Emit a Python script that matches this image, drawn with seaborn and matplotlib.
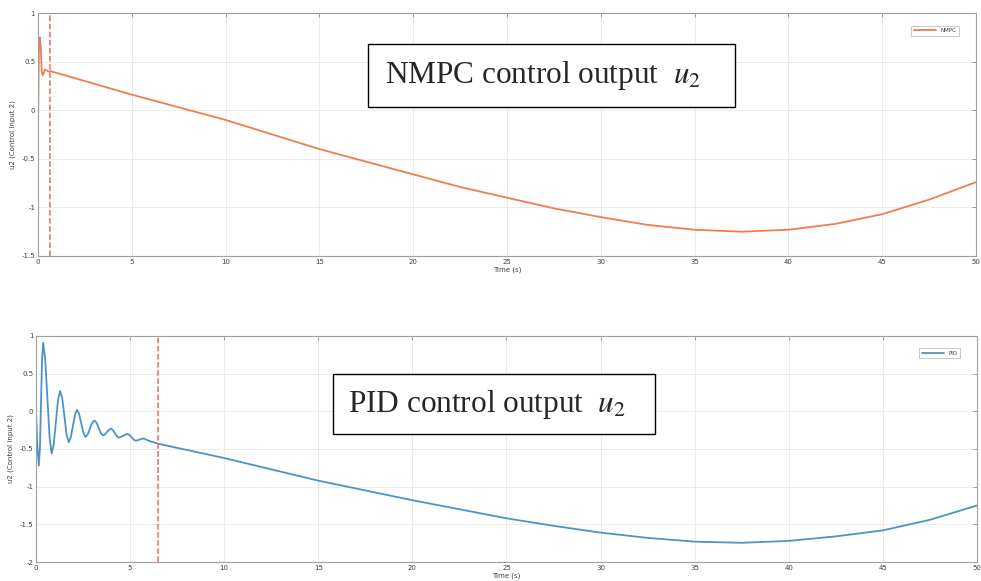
import pandas as pd
import matplotlib
matplotlib.use('Agg')
import matplotlib.pyplot as plt
from matplotlib.patches import Rectangle
import seaborn as sns

sns.set_style('whitegrid')
plt.rcParams['font.family'] = ['DejaVu Sans']
plt.rcParams['mathtext.fontset'] = 'stix'

# NMPC control output u2
nmpc_t = [0, 0.05, 0.1, 0.15, 0.2, 0.25, 0.3, 0.38, 0.45, 0.55, 0.7, 2.5, 5,
          7.5, 10, 12.5, 15, 17.5, 20, 22.5, 25, 27.5, 30, 32.5, 35, 37.5, 40,
          42.5, 45, 47.5, 50]
nmpc_u = [-0.2, 0.6, 0.75, 0.65, 0.4, 0.36, 0.38, 0.42, 0.41, 0.4, 0.4, 0.30, 0.16,
          0.03, -0.10, -0.25, -0.40, -0.53, -0.66, -0.79, -0.90, -1.01, -1.10, -1.18,
          -1.23, -1.25, -1.23, -1.17, -1.07, -0.92, -0.74]

# PID control output u2
pid_t = [0, 0.07, 0.15, 0.21, 0.265, 0.32, 0.38, 0.49, 0.605, 0.72, 0.83, 0.94, 1.055, 1.17,
         1.28, 1.395, 1.51, 1.625, 1.74, 1.85, 1.96, 2.07, 2.18, 2.29, 2.405, 2.52, 2.63,
         2.75, 2.865, 2.98, 3.1, 3.215, 3.33, 3.445, 3.56, 3.665, 3.77, 3.875, 3.98, 4.085,
         4.19, 4.295, 4.4, 4.515, 4.63, 4.745, 4.86, 4.97, 5.08, 5.19, 5.3, 5.405, 5.51,
         5.615, 5.72, 5.9, 6.1, 6.5, 7.5, 10, 12.5, 15, 17.5, 20, 22.5, 25, 27.5, 30, 32.5,
         35, 37.5, 40, 42.5, 45, 47.5, 50]
pid_u = [0.0, -0.45, -0.72, -0.48, 0.095, 0.67, 0.91, 0.69, 0.175, -0.34, -0.56, -0.44,
         -0.145, 0.15, 0.27, 0.17, -0.07, -0.31, -0.41, -0.345, -0.195, -0.045, 0.02, -0.035,
         -0.16, -0.285, -0.34, -0.305, -0.23, -0.155, -0.12, -0.15, -0.22, -0.29, -0.32,
         -0.305, -0.275, -0.245, -0.23, -0.25, -0.29, -0.33, -0.35, -0.34, -0.325, -0.31,
         -0.30, -0.315, -0.345, -0.375, -0.39, -0.385, -0.375, -0.365, -0.36, -0.38, -0.40,
         -0.43, -0.485, -0.62, -0.77, -0.92, -1.05, -1.18, -1.30, -1.42, -1.52, -1.61, -1.68,
         -1.73, -1.745, -1.72, -1.66, -1.58, -1.44, -1.25]

nmpc_mark = 0.65
pid_mark = 6.5
xticks = [0, 5, 10, 15, 20, 25, 30, 35, 40, 45, 50]
nmpc_yticks = [-1.5, -1, -0.5, 0, 0.5, 1]
pid_yticks = [-2, -1.5, -1, -0.5, 0, 0.5, 1]


def style_axes(ax, yticks):
    ax.set_xlim(0, 50)
    ax.set_ylim(yticks[0], yticks[-1])
    ax.set_xticks(xticks)
    ax.set_yticks(yticks)
    ax.set_xticklabels([f'{v:g}' for v in xticks])
    ax.set_yticklabels([f'{v:g}' for v in yticks])
    ax.tick_params(direction='in', top=True, right=True, labelsize=5,
                   labelcolor='#404040', color='#909090', length=3, width=0.6, pad=2)
    ax.grid(True, color='#e8e8e8', linewidth=0.6)
    for s in ax.spines.values():
        s.set_color('#a0a0a0')
        s.set_linewidth(0.8)
    ax.set_xlabel('Time (s)', fontsize=5, color='#404040', labelpad=1)
    ax.set_ylabel('u2 (Control Input 2)', fontsize=5, color='#404040', labelpad=4)


fig = plt.figure(figsize=(9.81, 5.81), dpi=100)
ax1 = fig.add_axes([0.0387, 0.5594, 0.9562, 0.4182])
ax2 = fig.add_axes([0.0367, 0.0327, 0.9592, 0.389])

df_nmpc = pd.DataFrame({'t': nmpc_t, 'u': nmpc_u})
df_pid = pd.DataFrame({'t': pid_t, 'u': pid_u})

sns.lineplot(data=df_nmpc, x='t', y='u', ax=ax1, color='#ef7d4d', linewidth=1.3,
             label='NMPC', sort=False)
ax1.axvline(nmpc_mark, color='#f26a6a', linestyle='--', linewidth=1.1)
sns.lineplot(data=df_pid, x='t', y='u', ax=ax2, color='#4a94c8', linewidth=1.3,
             label='PID', sort=False)
ax2.axvline(pid_mark, color='#f26a6a', linestyle='--', linewidth=1.1)

style_axes(ax1, nmpc_yticks)
style_axes(ax2, pid_yticks)

for ax in (ax1, ax2):
    leg = ax.legend(loc='upper right', fontsize=4, handlelength=4, borderpad=0.5,
                    bbox_to_anchor=(0.985, 0.96), frameon=True, fancybox=False)
    leg.get_frame().set_edgecolor('#b0b0b0')
    leg.get_frame().set_linewidth(0.6)
    for t in leg.get_texts():
        t.set_color('#404040')

# annotation boxes
for x0, y0, w, h in [(0.3751, 0.8158, 0.3741, 0.1084), (0.3395, 0.2530, 0.3282, 0.1033)]:
    fig.patches.append(Rectangle((x0, y0), w, h, transform=fig.transFigure,
                                 facecolor='white', edgecolor='black', linewidth=1.0,
                                 zorder=5))
fig.text(0.5535, 0.870, 'NMPC control output  $u_2$', ha='center', va='center',
         fontsize=22.5, family='Liberation Serif', zorder=6)
fig.text(0.496, 0.3046, 'PID control output  $u_2$', ha='center', va='center',
         fontsize=22.5, family='Liberation Serif', zorder=6)

fig.savefig('out.png', dpi=100)
